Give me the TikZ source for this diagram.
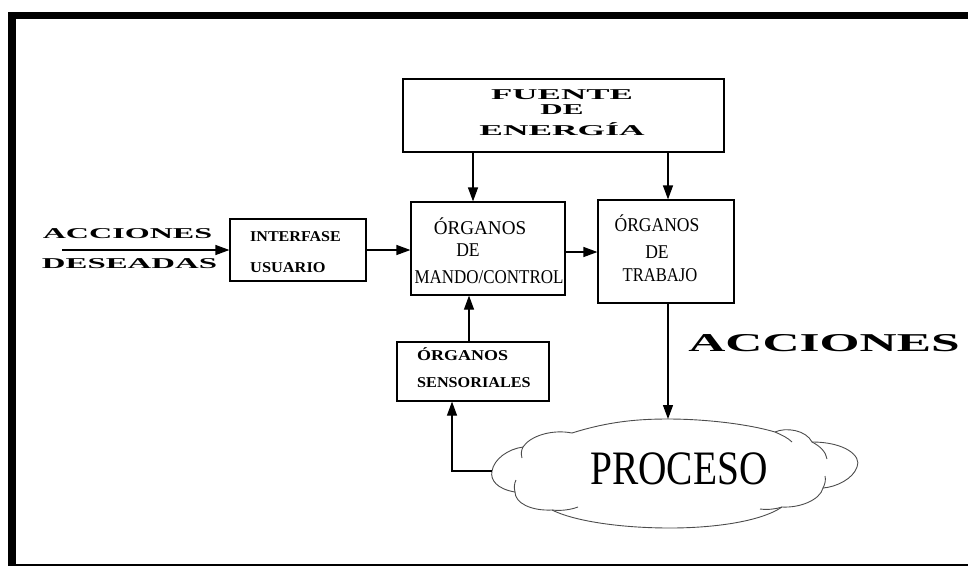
\documentclass[tikz,border=0pt]{standalone}
\usepackage{fontspec}
\setmainfont{Liberation Serif}
\usetikzlibrary{arrows.meta}
\tikzset{
  box/.style={draw, line width=1.2pt, inner sep=0pt},
  arr/.style={line width=1.2pt, -{Triangle[length=14pt,width=10pt]}},
  wide/.style={font=\fontsize{15}{18}\selectfont\bfseries, inner sep=0pt, anchor=base},
  med/.style={font=\fontsize{19.5}{22}\selectfont, inner sep=0pt, anchor=base},
  sml/.style={font=\fontsize{15}{18}\selectfont\bfseries, inner sep=0pt, anchor=base west},
  cloudline/.style={line width=0.9pt, draw=black!70},
}
\begin{document}
\begin{tikzpicture}[x=1pt,y=-1pt]
\useasboundingbox (0,0) rectangle (968,566);
% frame
\fill (8,12) rectangle (968,19);
\fill (8,12) rectangle (16,566);
\draw[line width=1.5pt] (8,565) -- (968,565);
% boxes
\node[box, minimum width=321pt, minimum height=73pt] (fuente) at (563.5,115.5) {};
\node[box, minimum width=136pt, minimum height=62pt] (interfase) at (298,250) {};
\node[box, minimum width=154pt, minimum height=93pt] (mando) at (488,248.5) {};
\node[box, minimum width=136pt, minimum height=103pt] (trabajo) at (666,251.5) {};
\node[box, minimum width=152pt, minimum height=59pt] (sensor) at (473,371.5) {};
% cloud
\draw[cloudline]
  (572,433) .. controls (610,421) and (640,419) .. (668,419)
  .. controls (705,419) and (748,424) .. (775,432)
  .. controls (786,427) and (806,430) .. (812,442)
  .. controls (845,442) and (862,456) .. (857,467)
  .. controls (853,479) and (836,487) .. (823,488)
  .. controls (820,500) and (800,508) .. (782,507)
  .. controls (760,522) and (712,528) .. (670,528)
  .. controls (620,528) and (574,521) .. (552,510)
  .. controls (531,511) and (515,503) .. (515,492)
  .. controls (497,489) and (490,480) .. (492,471)
  .. controls (494,459) and (508,449) .. (523,447)
  .. controls (530,436) and (552,429) .. (572,433) -- cycle;
\draw[cloudline] (523,447) .. controls (521,451) and (521,454) .. (522,458);
\draw[cloudline] (515,492) .. controls (514,488) and (514,484) .. (516,480);
\draw[cloudline] (552,510) .. controls (560,511) and (570,510) .. (578,507);
\draw[cloudline] (823,488) .. controls (825,484) and (826,480) .. (825,476);
\draw[cloudline] (782,507) .. controls (776,509) and (768,510) .. (760,509);
\draw[cloudline] (812,442) .. controls (820,446) and (826,452) .. (827,459);
\draw[cloudline] (775,432) .. controls (782,435) and (788,438) .. (792,442);
\node[inner sep=0pt, anchor=base, font=\fontsize{48}{56}\selectfont] (proceso) at (679,484) {\scalebox{0.82}[1]{PROCESO}};
\coordinate (cloudtop) at (668,419);
\coordinate (cloudleft) at (492,471);
% texts
\node[wide] (t1) at (562,99) {\scalebox{2.33}[1]{FUENTE}};
\node[wide] (t2) at (562,114) {\scalebox{2.07}[1]{DE}};
\node[wide] (t3) at (562,135) {\scalebox{2.36}[1]{ENERGÍA}};
\node[wide] (t4) at (127.5,238) {\scalebox{2.14}[1]{ACCIONES}};
\node[wide] (t5) at (129.5,268) {\scalebox{2.19}[1]{DESEADAS}};
\node[sml] (t6) at (250,241) {\scalebox{1.07}[1]{INTERFASE}};
\node[sml] (t7) at (250,272) {\scalebox{1.09}[1]{USUARIO}};
\node[med] (t8) at (480,234.5) {\scalebox{0.98}[1]{ÓRGANOS}};
\node[med] (t9) at (468,256.5) {\scalebox{0.9}[1]{DE}};
\node[med] (t10) at (489,283.5) {\scalebox{0.87}[1]{MANDO/CONTROL}};
\node[med] (t11) at (657,231.5) {\scalebox{0.9}[1]{ÓRGANOS}};
\node[med] (t12) at (657,258.5) {\scalebox{0.9}[1]{DE}};
\node[med] (t13) at (660,281.5) {\scalebox{0.85}[1]{TRABAJO}};
\node[sml] (t14) at (417,360) {\scalebox{1.2}[1]{ÓRGANOS}};
\node[sml] (t15) at (417,387) {\scalebox{1.08}[1]{SENSORIALES}};
\node[inner sep=0pt, anchor=base, font=\fontsize{25.7}{30}\selectfont\bfseries] (t16) at (824,351.5) {\scalebox{2.0}[1]{ACCIONES}};
% helper coordinates
\coordinate (c1) at (473,0);
\coordinate (c2) at (668,0);
\coordinate (c3) at (0,252);
\coordinate (c4) at (469,0);
\coordinate (c5) at (452,0);
\coordinate (ain) at (62,250);
% connectors
\draw[arr] (fuente.south -| c1) -- (mando.north -| c1);
\draw[arr] (fuente.south -| c2) -- (trabajo.north -| c2);
\draw[arr] (ain) -- (interfase.west |- ain);
\draw[arr] (interfase.east) -- (interfase.east -| mando.west);
\draw[arr] (mando.east |- c3) -- (trabajo.west |- c3);
\draw[arr] (trabajo.south -| c2) -- (cloudtop);
\draw[arr] (sensor.north -| c4) -- (mando.south -| c4);
\draw[arr] (cloudleft) -| (sensor.south -| c5);
\end{tikzpicture}
\end{document}
